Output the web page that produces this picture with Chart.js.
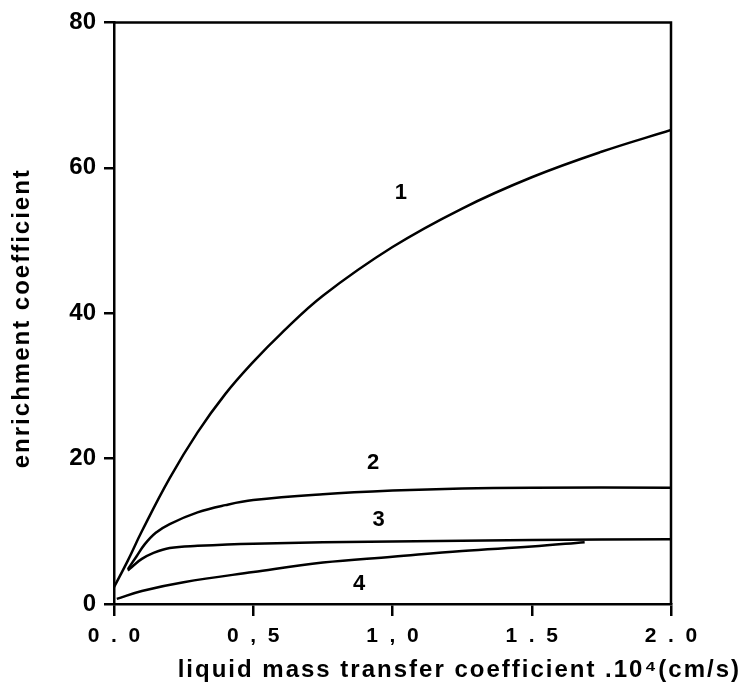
<!DOCTYPE html>
<html>
<head>
<meta charset="utf-8">
<script src="https://cdn.jsdelivr.net/npm/chart.js@4.4.1/dist/chart.umd.min.js"></script>
<style>
  body { margin: 0; background: #fff; }
  canvas { display: block; }
</style>
</head>
<body>
<canvas id="chart" width="743" height="700"></canvas>
<script>
// Axis ticks
var xTickLabels = ["0  .  0", "0  ,  5", "1  ,  0", "1  .  5", "2  .  0"];
var yTickValues = [0, 20, 40, 60, 80];

// Curves (x = liquid mass transfer coeff * 10^4, y = enrichment coeff)
var curve1X = [0, 0.05, 0.1, 0.2, 0.3, 0.4, 0.5, 0.6, 0.75, 1.0, 1.25, 1.5, 1.75, 2.0];
var curve1Y = [2.3, 6.0, 10.0, 17.3, 23.6, 28.9, 33.3, 37.2, 42.4, 49.1, 54.4, 58.7, 62.2, 65.2];

var curve2X = [0.05, 0.08, 0.11, 0.15, 0.2, 0.3, 0.4, 0.5, 0.75, 1.0, 1.25, 1.5, 2.0];
var curve2Y = [4.8, 6.5, 8.2, 9.8, 11.0, 12.6, 13.6, 14.3, 15.1, 15.6, 15.9, 16.0, 16.0];

var curve3X = [0.05, 0.07, 0.1, 0.14, 0.2, 0.3, 0.5, 1.0, 1.5, 2.0];
var curve3Y = [4.6, 5.3, 6.2, 7.0, 7.7, 8.0, 8.3, 8.6, 8.8, 8.9];

var curve4X = [0.01, 0.1, 0.25, 0.5, 0.75, 1.0, 1.25, 1.5, 1.69];
var curve4Y = [0.7, 1.8, 3.0, 4.4, 5.7, 6.5, 7.3, 7.9, 8.5];

// Curve numbers written next to the lines
var curveNames = ["1", "2", "3", "4"];
var nameX = [1.03, 0.93, 0.95, 0.88];
var nameY = [56.5, 19.4, 11.5, 2.8];

var axisTitleX = "liquid mass transfer coefficient .10\u2074(cm/s)";
var axisTitleY = "enrichment coefficient";

var FONT = "'Liberation Sans', Arial, sans-serif";

function toPoints(xs, ys) {
  var pts = [];
  for (var i = 0; i < xs.length; i++) pts.push({ x: xs[i], y: ys[i] });
  return pts;
}

function curve(xs, ys) {
  return {
    data: toPoints(xs, ys),
    borderColor: "#000",
    borderWidth: 2.5,
    pointRadius: 0,
    fill: false,
    tension: 0.4
  };
}

// Frame, curve numbers and axis titles
var extras = {
  id: "extras",
  afterDraw: function(chart) {
    var ctx = chart.ctx;
    var a = chart.chartArea;
    var xs = chart.scales.x, ys = chart.scales.y;
    ctx.save();
    ctx.strokeStyle = "#000";
    ctx.lineWidth = 2.5;
    ctx.beginPath();
    ctx.moveTo(a.left, a.top);
    ctx.lineTo(a.right, a.top);
    ctx.lineTo(a.right, a.bottom);
    ctx.stroke();

    ctx.fillStyle = "#000";
    ctx.font = "bold 22px " + FONT;
    ctx.textAlign = "center";
    ctx.textBaseline = "middle";
    for (var i = 0; i < curveNames.length; i++) {
      ctx.fillText(curveNames[i], xs.getPixelForValue(nameX[i]), ys.getPixelForValue(nameY[i]));
    }

    ctx.font = "bold 24px " + FONT;
    ctx.letterSpacing = "2px";
    ctx.textAlign = "right";
    ctx.fillText(axisTitleX, a.right + 70, 670);

    ctx.translate(22, (a.top + a.bottom) / 2 + 5);
    ctx.rotate(-Math.PI / 2);
    ctx.textAlign = "center";
    ctx.fillText(axisTitleY, 0, 0);
    ctx.restore();
  }
};

var chart = new Chart(document.getElementById("chart"), {
  type: "line",
  data: {
    datasets: [
      curve(curve1X, curve1Y),
      curve(curve2X, curve2Y),
      curve(curve3X, curve3Y),
      curve(curve4X, curve4Y)
    ]
  },
  options: {
    responsive: false,
    animation: false,
    layout: { padding: { top: 19, right: 72, left: 0, bottom: 0 } },
    plugins: { legend: { display: false }, tooltip: { enabled: false } },
    scales: {
      x: {
        type: "linear",
        min: 0,
        max: 2,
        afterFit: function(s) { s.height = 96; },
        afterBuildTicks: function(s) {
          s.ticks = xTickLabels.map(function(t, i) { return { value: i * 0.5 }; });
        },
        ticks: {
          color: "#000",
          font: { family: FONT, size: 21, weight: "bold" },
          padding: 8,
          maxRotation: 0,
          callback: function(v, i) { return xTickLabels[i]; }
        },
        grid: { drawOnChartArea: false, drawTicks: true, tickLength: 12, color: "#000", lineWidth: 2.5 },
        border: { display: true, color: "#000", width: 2.5 }
      },
      y: {
        type: "linear",
        min: 0,
        max: 80,
        afterFit: function(s) { s.width = 114; },
        afterBuildTicks: function(s) {
          s.ticks = yTickValues.map(function(v) { return { value: v }; });
        },
        ticks: {
          color: "#000",
          font: { family: FONT, size: 24, weight: "bold" },
          padding: 8
        },
        grid: { drawOnChartArea: false, drawTicks: true, tickLength: 10, color: "#000", lineWidth: 2.5 },
        border: { display: true, color: "#000", width: 2.5 }
      }
    }
  },
  plugins: [extras]
});
</script>
</body>
</html>
